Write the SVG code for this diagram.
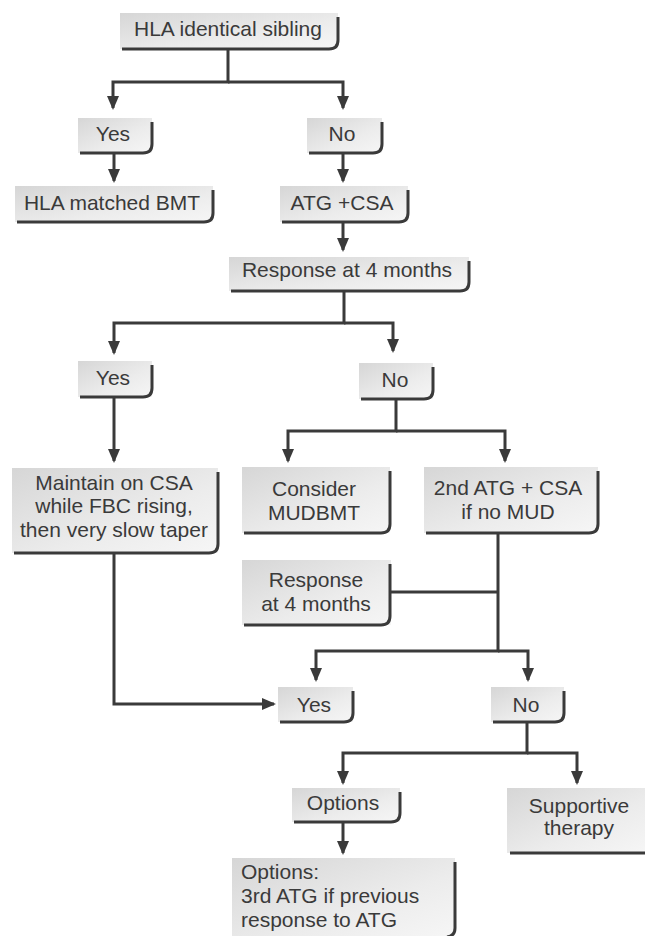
<svg xmlns="http://www.w3.org/2000/svg" width="645" height="936" viewBox="0 0 645 936">
<defs>
<linearGradient id="g" x1="0" y1="0" x2="1" y2="1">
<stop offset="0" stop-color="#d6d6d6"/>
<stop offset="0.6" stop-color="#ececec"/>
<stop offset="1" stop-color="#f6f6f6"/>
</linearGradient>
<marker id="ah" viewBox="0 0 14 12" markerWidth="14" markerHeight="12" refX="12" refY="6" orient="auto" markerUnits="userSpaceOnUse">
<path d="M0,0 L14,6 L0,12 z" fill="#3a3a3a"/>
</marker>
<style>
.bg{fill:url(#g);}
.bd{fill:none;stroke:#3a3a3a;stroke-width:3;}
.t{font-family:"Liberation Sans",Arial,sans-serif;font-size:21px;fill:#3a3a3a;text-anchor:middle;}
.tl{text-anchor:start;}
.c{fill:none;stroke:#3a3a3a;stroke-width:3;}
.ca{marker-end:url(#ah);}
</style>
</defs>
<rect width="645" height="936" fill="#ffffff"/>

<g id="connectors">
<path class="c ca" d="M228,49 V82 H113 V108"/>
<path class="c ca" d="M228,82 H343 V108"/>
<path class="c ca" d="M114,153 V181"/>
<path class="c ca" d="M343,153 V181"/>
<path class="c ca" d="M343,222 V250"/>
<path class="c ca" d="M344,291 V323 H114 V353"/>
<path class="c ca" d="M344,323 H393 V351"/>
<path class="c ca" d="M114,397 V461"/>
<path class="c ca" d="M396,399 V431 H288 V461"/>
<path class="c ca" d="M396,431 H505 V461"/>
<path class="c ca" d="M498,533 V651 H316 V680"/>
<path class="c ca" d="M498,651 H528 V680"/>
<path class="c" d="M390,592 H498"/>
<path class="c ca" d="M114,553 V704 H274"/>
<path class="c ca" d="M527,722 V753 H343 V783"/>
<path class="c ca" d="M527,753 H577 V783"/>
<path class="c ca" d="M343,822 V853"/>
</g>

<g id="n_hla">
<rect class="bg" x="120" y="13" width="218" height="36"/>
<path class="bd" d="M338,17 V40 Q338,49 329,49 H122"/>
<text class="t" x="228" y="36">HLA identical sibling</text>
</g>

<g id="n_yes1">
<rect class="bg" x="78" y="118" width="74" height="35"/>
<path class="bd" d="M152,122 V144 Q152,153 143,153 H80"/>
<text class="t" x="113" y="141">Yes</text>
</g>

<g id="n_no1">
<rect class="bg" x="307" y="118" width="75" height="35"/>
<path class="bd" d="M382,122 V144 Q382,153 373,153 H309"/>
<text class="t" x="342" y="141">No</text>
</g>

<g id="n_bmt">
<rect class="bg" x="15" y="186" width="198" height="36"/>
<path class="bd" d="M213,190 V213 Q213,222 204,222 H17"/>
<text class="t" x="112" y="210">HLA matched BMT</text>
</g>

<g id="n_atg">
<rect class="bg" x="280" y="186" width="128" height="36"/>
<path class="bd" d="M408,190 V213 Q408,222 399,222 H282"/>
<text class="t" x="342" y="210">ATG +CSA</text>
</g>

<g id="n_resp1">
<rect class="bg" x="229" y="257" width="240" height="34"/>
<path class="bd" d="M469,261 V282 Q469,291 460,291 H231"/>
<text class="t" x="347" y="277">Response at 4 months</text>
</g>

<g id="n_yes2">
<rect class="bg" x="78" y="361" width="74" height="36"/>
<path class="bd" d="M152,365 V388 Q152,397 143,397 H80"/>
<text class="t" x="113" y="385">Yes</text>
</g>

<g id="n_no2">
<rect class="bg" x="359" y="363" width="74" height="36"/>
<path class="bd" d="M433,367 V390 Q433,399 424,399 H361"/>
<text class="t" x="395" y="387">No</text>
</g>

<g id="n_maintain">
<rect class="bg" x="12" y="468" width="206" height="85"/>
<path class="bd" d="M218,472 V544 Q218,553 209,553 H14"/>
<text class="t" x="114" y="490">Maintain on CSA</text>
<text class="t" x="114" y="513">while FBC rising,</text>
<text class="t" x="114" y="537">then very slow taper</text>
</g>

<g id="n_consider">
<rect class="bg" x="242" y="467" width="148" height="66"/>
<path class="bd" d="M390,471 V524 Q390,533 381,533 H244"/>
<text class="t" x="314" y="496">Consider</text>
<text class="t" x="314" y="520">MUDBMT</text>
</g>

<g id="n_atg2">
<rect class="bg" x="424" y="467" width="174" height="66"/>
<path class="bd" d="M598,471 V524 Q598,533 589,533 H426"/>
<text class="t" x="508" y="495">2nd ATG + CSA</text>
<text class="t" x="508" y="519">if no MUD</text>
</g>

<g id="n_resp2">
<rect class="bg" x="242" y="560" width="149" height="65"/>
<path class="bd" d="M390,564 V616 Q390,625 381,625 H244"/>
<text class="t" x="316" y="587">Response</text>
<text class="t" x="316" y="611">at 4 months</text>
</g>

<g id="n_yes3">
<rect class="bg" x="278" y="687" width="75" height="35"/>
<path class="bd" d="M353,691 V713 Q353,722 344,722 H280"/>
<text class="t" x="314" y="712">Yes</text>
</g>

<g id="n_no3">
<rect class="bg" x="491" y="687" width="73" height="35"/>
<path class="bd" d="M564,691 V713 Q564,722 555,722 H493"/>
<text class="t" x="526" y="712">No</text>
</g>

<g id="n_options">
<rect class="bg" x="292" y="788" width="108" height="34"/>
<path class="bd" d="M400,792 V813 Q400,822 391,822 H294"/>
<text class="t" x="343" y="810">Options</text>
</g>

<g id="n_supportive">
<rect class="bg" x="507" y="788" width="140" height="65"/>
<path class="bd" d="M510,853 H647"/>
<text class="t" x="579" y="813">Supportive</text>
<text class="t" x="579" y="835">therapy</text>
</g>

<g id="n_options2">
<rect class="bg" x="232" y="858" width="223" height="80"/>
<path class="bd" d="M455,862 V928 Q455,936 447,937"/>
<text class="t tl" x="241" y="879">Options:</text>
<text class="t tl" x="241" y="903">3rd ATG if previous</text>
<text class="t tl" x="241" y="927">response to ATG</text>
</g>
</svg>
